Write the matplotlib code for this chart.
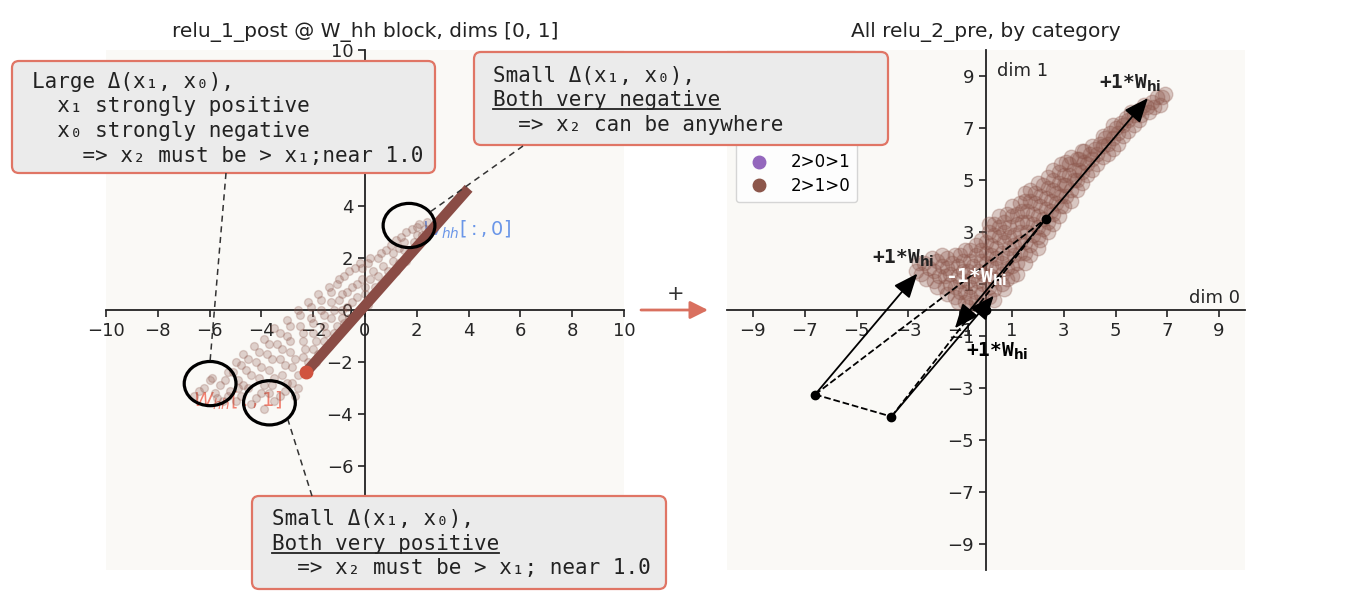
import matplotlib
matplotlib.use('Agg')
import matplotlib.pyplot as plt
from matplotlib.patches import Ellipse, FancyBboxPatch
from matplotlib.lines import Line2D

W, H = 1350, 604
MONO = ['DejaVu Sans Mono', 'DejaVu Sans']

# ---- data ----
# left panel: relu_1_post @ W_hh block
left_cloud = [
    (-6.6, -3.3), (-6.2, -3.0), (-5.9, -2.6), (-5.8, -3.2), (-5.6, -2.9), (-5.5, -3.5),
    (-5.3, -2.4), (-5.2, -3.1), (-5.0, -2.0), (-4.9, -2.7), (-4.8, -3.3), (-4.7, -1.7),
    (-4.6, -2.3), (-4.5, -3.0), (-4.4, -3.6), (-4.3, -1.4), (-4.2, -2.0), (-4.1, -2.6),
    (-4.0, -3.2), (-3.9, -3.8), (-3.9, -1.1), (-3.8, -1.7), (-3.7, -2.3), (-3.6, -2.9),
    (-3.5, -3.5), (-3.5, -0.7), (-3.4, -1.3), (-3.3, -1.9), (-3.2, -2.5), (-3.1, -3.1),
    (-3.0, -0.4), (-3.0, -1.0), (-2.9, -1.6), (-2.8, -2.2), (-2.8, -2.8), (-2.7, -3.3),
    (-2.6, 0.0), (-2.5, -0.6), (-2.4, -1.2), (-2.4, -1.8), (-2.3, -2.3), (-2.2, 0.3),
    (-2.1, -0.3), (-2.0, -0.9), (-2.0, -1.5), (-1.9, -2.0), (-1.8, 0.6), (-1.7, 0.0),
    (-1.6, -0.6), (-1.6, -1.2), (-1.4, 0.9), (-1.3, 0.3), (-1.3, -0.3), (-1.2, -0.9),
    (-1.0, 1.2), (-0.9, 0.6), (-0.9, 0.0), (-0.8, -0.5), (-0.6, 1.5), (-0.5, 0.9),
    (-0.5, 0.3), (-0.4, -0.2), (-0.2, 1.8), (-0.1, 1.2), (0.0, 0.6), (0.1, 0.2),
    (0.2, 2.0), (0.3, 1.5), (0.4, 0.9), (0.6, 2.2), (0.7, 1.7), (0.8, 1.2),
    (1.0, 2.5), (1.1, 1.9), (1.2, 1.5), (1.4, 2.8), (1.5, 2.3), (1.6, 1.9),
    (1.8, 3.1), (1.9, 2.6), (2.1, 3.3), (2.2, 2.9), (2.4, 3.4),
    (-6.4, -3.1), (-6.0, -2.7), (-5.7, -3.4), (-5.4, -2.7), (-5.1, -2.4), (-5.0, -3.5),
    (-4.8, -2.1), (-4.7, -2.9), (-4.5, -1.9), (-4.4, -2.5), (-4.2, -3.4), (-4.1, -1.6),
    (-4.0, -2.2), (-3.9, -2.9), (-3.7, -1.3), (-3.7, -3.2), (-3.6, -1.9), (-3.5, -2.6),
    (-3.3, -0.9), (-3.3, -3.3), (-3.2, -1.5), (-3.1, -2.1), (-3.0, -2.8), (-2.9, -0.6),
    (-2.9, -1.2), (-2.7, -1.9), (-2.6, -2.5), (-2.6, -3.0), (-2.5, -0.2), (-2.4, -0.9),
    (-2.3, -1.5), (-2.2, -2.0), (-2.1, 0.1), (-2.0, -0.5), (-1.9, -1.2), (-1.8, -1.7),
    (-1.7, 0.4), (-1.6, -0.2), (-1.5, -0.9), (-1.4, -1.4), (-1.3, 0.7), (-1.2, 0.0),
    (-1.1, -0.6), (-1.1, 1.0), (-1.0, 0.4), (-0.9, -0.3), (-0.8, 1.3), (-0.7, 0.7),
    (-0.7, 0.1), (-0.6, -0.3), (-0.4, 1.6), (-0.3, 1.0), (-0.3, 0.5), (-0.1, 1.6),
    (0.0, 0.9), (0.1, 1.8), (0.2, 1.2), (0.3, 0.6), (0.5, 2.0), (0.5, 1.3),
    (0.6, 1.0), (0.8, 2.3), (0.9, 1.5), (1.1, 2.2), (1.2, 2.7), (1.3, 1.8),
    (1.5, 2.6), (1.6, 3.0), (1.7, 2.2), (2.0, 2.9), (2.0, 3.2), (2.3, 3.1),
    (1.3, 2.4), (-4.9, -3.0), (-5.3, -3.3),
]
left_line_x = [-2.28, 4.0]
left_line_y = [-2.4, 4.68]
left_red_pt = (-2.28, -2.4)
circle_centers = [(1.7, 3.25), (-5.98, -2.83), (-3.69, -3.57)]

# right panel: all relu_2_pre
right_cloud = [
    (-2.7, 1.5), (-2.6, 1.8), (-2.3, 1.2), (-2.2, 1.6), (-2.1, 2.0), (-1.9, 0.9),
    (-1.8, 1.3), (-1.7, 1.7), (-1.7, 2.1), (-1.5, 0.6), (-1.4, 1.0), (-1.4, 1.4),
    (-1.3, 1.8), (-1.2, 2.1), (-1.1, 0.3), (-1.0, 0.7), (-1.0, 1.1), (-0.9, 1.5),
    (-0.9, 1.9), (-0.8, 2.3), (-0.7, 0.1), (-0.6, 0.5), (-0.6, 0.9), (-0.5, 1.3),
    (-0.5, 1.7), (-0.4, 2.1), (-0.4, 2.5), (-0.2, 0.2), (-0.2, 0.6), (-0.1, 1.0),
    (-0.1, 1.4), (0.0, 1.8), (0.0, 2.2), (0.0, 2.6), (0.1, 3.0), (0.1, 3.3),
    (0.3, 0.4), (0.3, 0.8), (0.3, 1.2), (0.4, 1.6), (0.4, 2.0), (0.4, 2.4),
    (0.5, 2.8), (0.5, 3.2), (0.5, 3.6), (0.7, 0.8), (0.8, 1.2), (0.8, 1.6),
    (0.8, 2.0), (0.9, 2.4), (0.9, 2.8), (0.9, 3.2), (1.0, 3.6), (1.0, 4.0),
    (1.2, 1.4), (1.2, 1.8), (1.3, 2.2), (1.3, 2.6), (1.3, 3.0), (1.4, 3.4),
    (1.4, 3.8), (1.5, 4.2), (1.5, 4.5), (1.7, 2.1), (1.7, 2.5), (1.8, 2.9),
    (1.8, 3.3), (1.8, 3.7), (1.9, 4.1), (1.9, 4.5), (2.0, 4.9), (2.1, 2.7),
    (2.2, 3.1), (2.2, 3.5), (2.3, 3.9), (2.3, 4.3), (2.4, 4.7), (2.4, 5.1),
    (2.6, 3.3), (2.6, 3.7), (2.7, 4.1), (2.7, 4.5), (2.8, 4.9), (2.8, 5.3),
    (2.9, 5.6), (3.0, 4.0), (3.1, 4.4), (3.1, 4.8), (3.2, 5.2), (3.2, 5.6),
    (3.3, 5.9), (3.5, 4.6), (3.5, 5.0), (3.6, 5.4), (3.6, 5.8), (3.7, 6.1),
    (3.9, 5.2), (3.9, 5.6), (4.0, 6.0), (4.1, 6.3), (4.3, 5.6), (4.3, 6.0),
    (4.4, 6.4), (4.5, 6.7), (4.7, 6.0), (4.7, 6.4), (4.8, 6.8), (4.9, 7.1),
    (5.1, 6.4), (5.1, 6.8), (5.2, 7.2), (5.5, 6.9), (5.5, 7.3), (5.6, 7.6),
    (5.9, 7.3), (5.9, 7.7), (6.1, 7.9), (6.3, 7.6), (6.4, 8.0), (6.7, 7.9),
    (6.8, 8.2),
    (-2.5, 1.4), (-2.4, 1.8), (-2.0, 1.1), (-2.0, 1.5), (-1.9, 1.9), (-1.6, 0.9),
    (-1.6, 1.3), (-1.5, 1.6), (-1.5, 2.0), (-1.2, 0.5), (-1.2, 0.9), (-1.1, 1.3),
    (-1.1, 1.7), (-1.0, 2.1), (-0.8, 0.3), (-0.8, 0.7), (-0.7, 1.1), (-0.7, 1.5),
    (-0.6, 1.9), (-0.6, 2.3), (-0.4, 0.3), (-0.4, 0.7), (-0.3, 1.1), (-0.3, 1.5),
    (-0.2, 1.9), (-0.2, 2.3), (-0.2, 2.7), (0.1, 0.5), (0.1, 0.9), (0.2, 1.3),
    (0.2, 1.7), (0.2, 2.1), (0.2, 2.5), (0.3, 2.9), (0.3, 3.3), (0.6, 1.0),
    (0.6, 1.4), (0.6, 1.8), (0.6, 2.2), (0.7, 2.6), (0.7, 3.0), (0.7, 3.4),
    (0.8, 3.7), (1.0, 1.3), (1.0, 1.7), (1.1, 2.1), (1.1, 2.5), (1.1, 2.9),
    (1.2, 3.3), (1.2, 3.7), (1.3, 4.1), (1.5, 1.8), (1.5, 2.2), (1.5, 2.6),
    (1.6, 3.0), (1.6, 3.4), (1.6, 3.8), (1.7, 4.2), (1.7, 4.6), (2.0, 2.4),
    (2.0, 2.8), (2.0, 3.2), (2.0, 3.6), (2.1, 4.0), (2.1, 4.4), (2.2, 4.8),
    (2.4, 3.0), (2.4, 3.4), (2.5, 3.8), (2.5, 4.2), (2.6, 4.6), (2.6, 5.0),
    (2.6, 5.4), (2.8, 3.6), (2.9, 4.0), (2.9, 4.4), (3.0, 4.8), (3.0, 5.2),
    (3.1, 5.7), (3.3, 4.2), (3.3, 4.6), (3.4, 5.0), (3.4, 5.4), (3.5, 5.8),
    (3.7, 4.9), (3.7, 5.3), (3.8, 5.7), (3.8, 6.1), (4.1, 5.4), (4.1, 5.8),
    (4.2, 6.2), (4.5, 5.9), (4.5, 6.3), (4.6, 6.6), (4.9, 6.2), (4.9, 6.6),
    (5.0, 7.0), (5.3, 6.7), (5.3, 7.1), (5.4, 7.4), (5.7, 7.1), (5.7, 7.5),
    (6.0, 7.5), (6.2, 7.8), (6.5, 7.8), (6.6, 8.2), (6.9, 8.3),
]
categories = ['0>1>2', '0>2>1', '1>0>2', '1>2>0', '2>0>1', '2>1>0']
cat_colors = ['tab:blue', 'tab:orange', 'tab:green', 'tab:red', 'tab:purple', 'tab:brown']

# anchor points and W_hi vector
pt_a = (-6.6, -3.25)
pt_b = (-3.65, -4.1)
pt_c = (2.3, 3.5)
origin = (0.0, 0.0)
w_hi = (3.95, 4.65)
neg_tip = (-1.2, -0.7)

# only the ticks not covered by the text boxes
left_xticks = list(range(-10, 11, 2))
left_yticks = [-6, -4, -2, 0, 2, 4, 10]
right_ticks = list(range(-9, 10, 2))

# ---- figure ----
fig = plt.figure(figsize=(W / 100, H / 100), dpi=100)


def rect(x0, y0, x1, y1):
    return [x0 / W, 1 - y1 / H, (x1 - x0) / W, (y1 - y0) / H]


def style(ax, xticks, yticks):
    ax.set_facecolor('#faf9f6')
    for s in ['top', 'right']:
        ax.spines[s].set_visible(False)
    for s in ['left', 'bottom']:
        ax.spines[s].set_position('zero')
        ax.spines[s].set_linewidth(1.3)
        ax.spines[s].set_color('#222222')
    ax.set_xlim(-10, 10)
    ax.set_ylim(-10, 10)
    ax.set_xticks(xticks)
    ax.set_yticks(yticks)
    ax.tick_params(labelsize=13, length=5, width=1.2, color='#222222', labelcolor='#262626')


ax1 = fig.add_axes(rect(106, 50, 624, 570))
ax2 = fig.add_axes(rect(727, 50, 1245, 570))
style(ax1, left_xticks, left_yticks)
style(ax2, right_ticks, right_ticks)

# left panel
ax1.text(2.2, 3.1, r'$W_{hh}[:, 0]$', color='#6a96e8', fontsize=14, va='center', zorder=2)
ax1.text(-6.64, -3.5, r'$W_{hh}[:, 1]$', color='#f08070', fontsize=14, va='center', zorder=2)
ax1.scatter([p[0] for p in left_cloud], [p[1] for p in left_cloud],
            s=32, color='tab:brown', alpha=0.25, zorder=3)
ax1.plot(left_line_x, left_line_y, color='#8a4c45', lw=7.5, solid_capstyle='butt', zorder=3.5)
ax1.plot([left_red_pt[0]], [left_red_pt[1]], 'o', color='#d0533f', ms=9, zorder=3.6)
for c in circle_centers:
    ax1.add_patch(Ellipse(c, 2.0, 1.7, fill=False, ec='black', lw=2.3, zorder=5))

# right panel
ax2.scatter([p[0] for p in right_cloud], [p[1] for p in right_cloud],
            s=110, color='tab:brown', alpha=0.3, zorder=3)
handles = [Line2D([], [], ls='none', marker='o', ms=9, color=c) for c in cat_colors]
ax2.legend(handles, categories, loc='lower left', bbox_to_anchor=(0.017, 0.708),
           borderaxespad=0, fontsize=12, labelspacing=0.35, handletextpad=0.9)
ax2.text(0.42, 9.2, 'dim 1', fontsize=13, color='#262626', va='center', ha='left')
ax2.text(9.8, 0.12, 'dim 0', fontsize=13, color='#262626', va='bottom', ha='right')

head = dict(arrowstyle='-|>,head_length=0.6,head_width=0.25', color='black', lw=1.3,
            mutation_scale=25, shrinkA=0, shrinkB=0)


def vec(start, end):
    ax2.annotate('', xy=end, xytext=start, arrowprops=head, zorder=6)


for p in [pt_a, pt_b, pt_c]:
    vec(p, (p[0] + w_hi[0], p[1] + w_hi[1]))
vec(pt_c, neg_tip)
for p, q in [(pt_a, pt_c), (pt_b, pt_c), (pt_a, pt_b)]:
    ax2.plot([p[0], q[0]], [p[1], q[1]], ls='--', color='black', lw=1.3, zorder=5)
ax2.plot([p[0] for p in [pt_a, pt_b, pt_c, origin]], [p[1] for p in [pt_a, pt_b, pt_c, origin]],
         'o', color='black', ms=6, zorder=7)

lab = dict(fontsize=14, fontweight='bold', family=MONO, ha='center', va='center', zorder=8)
w_lbl = r'W$_\mathbf{hi}$'
ax2.text(-3.2, 2.0, '+1*' + w_lbl, color='#222222', **lab)
ax2.text(5.58, 8.7, '+1*' + w_lbl, color='#222222', **lab)
ax2.text(-0.37, 1.24, '-1*' + w_lbl, color='white', **lab)
ax2.text(0.42, -1.58, '+1*' + w_lbl, color='black', **lab)

# ---- overlay in pixel coordinates ----
ov = fig.add_axes([0, 0, 1, 1], zorder=10)
ov.set_xlim(0, W)
ov.set_ylim(H, 0)
ov.axis('off')

ov.text(365, 32, 'relu_1_post @ W_hh block, dims [0, 1]', fontsize=14.5, ha='center', va='center', color='#222222')
ov.text(986, 32, 'All relu_2_pre, by category', fontsize=14.5, ha='center', va='center', color='#222222')

# arrow between panels
ov.annotate('', xy=(708, 310), xytext=(641, 310),
            arrowprops=dict(arrowstyle='-|>,head_length=0.6,head_width=0.3', color='#d9705f', lw=2,
                            mutation_scale=18, shrinkA=0, shrinkB=0))
ov.text(676, 294, '+', fontsize=15, ha='center', va='center', color='#333333')

# dashed connectors
dash = dict(ls=(0, (4, 3)), color='#333333', lw=1.1)
ov.plot([226, 210], [173, 362], **dash)
ov.plot([523, 430], [146, 212], **dash)
ov.plot([312, 288], [496, 420], **dash)

boxes = [(12, 61, 435, 173), (474, 52, 888, 145), (252, 496, 666, 589)]
for x0, y0, x1, y1 in boxes:
    ov.add_patch(FancyBboxPatch((x0, y0), x1 - x0, y1 - y0, boxstyle='round,pad=0,rounding_size=7',
                                fc='#ebebeb', ec='#e07565', lw=1.6, zorder=1))

txt = dict(fontsize=15, family=MONO, color='#222222', va='baseline', ha='left', zorder=2)
box_lines = [
    (32, 88, 'Large \u0394(x\u2081, x\u2080),', False),
    (32, 112, '  x\u2081 strongly positive', False),
    (32, 137, '  x\u2080 strongly negative', False),
    (32, 162, '    => x\u2082 must be > x\u2081;near 1.0', False),
    (493, 82, 'Small \u0394(x\u2081, x\u2080),', False),
    (493, 106, 'Both very negative', True),
    (493, 131, '  => x\u2082 can be anywhere', False),
    (272, 525, 'Small \u0394(x\u2081, x\u2080),', False),
    (272, 550, 'Both very positive', True),
    (272, 574, '  => x\u2082 must be > x\u2081; near 1.0', False),
]
underlined = []
for x, y, s, u in box_lines:
    t = ov.text(x, y, s, **txt)
    if u:
        underlined.append((t, y))

fig.canvas.draw()
inv = ov.transData.inverted()
for t, y in underlined:
    bb = t.get_window_extent()
    xa = inv.transform((bb.x0, bb.y0))[0]
    xb = inv.transform((bb.x1, bb.y0))[0]
    ov.plot([xa, xb], [y + 3, y + 3], color='#222222', lw=1.3, zorder=3)

fig.savefig('out.png', dpi=100, facecolor='white')
